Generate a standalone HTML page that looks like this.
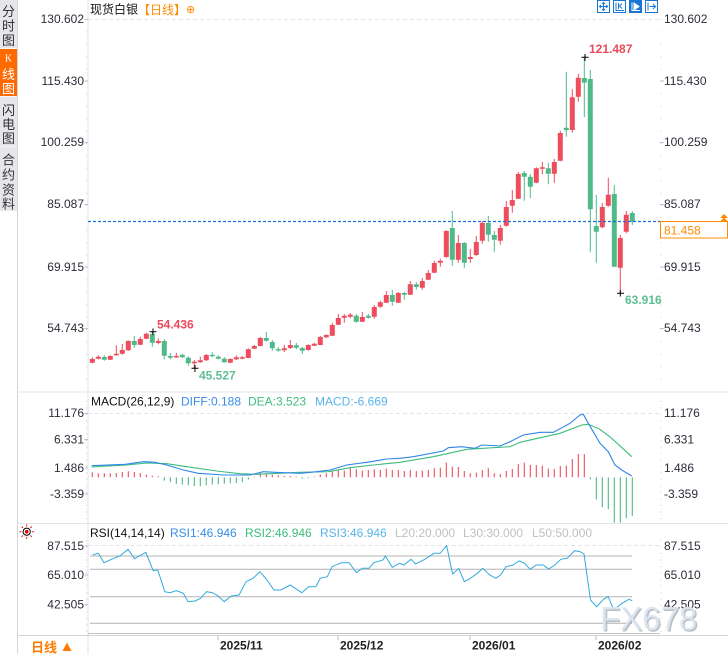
<!DOCTYPE html>
<html><head><meta charset="utf-8"><style>
html,body{margin:0;padding:0;background:#fff;}
svg{display:block;font-family:"Liberation Sans","Noto Sans CJK SC",sans-serif;}
</style></head><body>
<svg width="728" height="654" viewBox="0 0 728 654" xmlns="http://www.w3.org/2000/svg">
<rect width="728" height="654" fill="#fff"/>
<!-- sidebar -->
<rect x="0" y="0" width="17" height="211" fill="#e6e6ea"/>
<rect x="0" y="49" width="17" height="47" fill="#ff6a00"/>
<path d="M0 48.5H17M0 96.5H17M0 146.8H17" stroke="#f6f6f8" stroke-width="1"/>
<path d="M17.5 0V654" stroke="#d4d6da" stroke-width="1"/>
<g font-size="13" fill="#333" text-anchor="middle" dominant-baseline="central" font-family="'Noto Sans CJK SC',sans-serif">
<text x="8.5" y="10.5">分</text><text x="8.5" y="25">时</text><text x="8.5" y="39.5">图</text>
<text x="8.5" y="59" fill="#fff" font-size="10" font-family="'Liberation Serif',serif">K</text><text x="8.5" y="73.5" fill="#fff">线</text><text x="8.5" y="88" fill="#fff">图</text>
<text x="8.5" y="109.5">闪</text><text x="8.5" y="123.5">电</text><text x="8.5" y="137.5">图</text>
<text x="8.5" y="159">合</text><text x="8.5" y="174">约</text><text x="8.5" y="189">资</text><text x="8.5" y="203">料</text>
</g>
<!-- frames -->
<path d="M88 0V654" stroke="#dbe3ea" stroke-width="1"/>
<path d="M17 392H728M17 523.5H728" stroke="#e2e6ea" stroke-width="1"/>
<path d="M17 635.5H728" stroke="#d2d4d8" stroke-width="1"/>
<path d="M88 633.5H660" stroke="#c4c4c4" stroke-width="1"/>
<!-- title -->
<text x="90" y="9" font-size="12" fill="#111" dominant-baseline="central" font-family="'Noto Sans CJK SC',sans-serif">现货白银<tspan fill="#ff8a00">【日线】</tspan><tspan fill="#ff8a00" font-family="'DejaVu Sans',sans-serif" font-size="11">⊕</tspan></text>
<!-- top right icons -->
<g stroke="#1a76d2" stroke-width="1" fill="none">
<rect x="597.5" y="0.5" width="12" height="12"/>
<path d="M603.5 2.5V10.5M599.5 6.5H607.5M602 4L603.5 2.5L605 4M602 9L603.5 10.5L605 9M601 5L599.5 6.5L601 8M606 5L607.5 6.5L606 8"/>
<rect x="613.5" y="0.5" width="12" height="12"/>
<path d="M616 2.5V10.5H624M618.5 3V9M622 3.5L619.5 6L622 8.5"/>
<rect x="629.5" y="0.5" width="12" height="12" fill="#1a76d2"/>
<path d="M632 2.5V10.5H640" stroke="#fff"/>
<path d="M634 3L639 6.5L634 10Z" fill="#fff" stroke="#fff"/>
<rect x="645.5" y="0.5" width="12" height="12"/>
<path d="M648 2.5V10.5M649.5 6.5H655.5M653 4L655.5 6.5L653 9"/>
</g>
<!-- price grid -->
<path d="M88 19.5H660" stroke="#e4e4e4" stroke-dasharray="4 3"/>
<path d="M86.5 19V390" stroke="#c9d0d8" stroke-dasharray="1 11.4"/>
<path d="M661 19V390" stroke="#c9d0d8" stroke-dasharray="1 11.4"/>
<g stroke="#b8c4d0" stroke-width="1">
<path d="M84.5 19.5H88M84.5 81H88M84.5 142.5H88M84.5 204.5H88M84.5 267H88M84.5 328.5H88"/>
<path d="M660 81H664M660 142.5H664M660 204.5H664M660 267H664M660 328.5H664"/>
</g>
<g font-size="12" fill="#2d2d3a" dominant-baseline="central">
<g text-anchor="end">
<text x="84" y="19">130.602</text><text x="84" y="81">115.430</text><text x="84" y="142">100.259</text>
<text x="84" y="204">85.087</text><text x="84" y="267">69.915</text><text x="84" y="328">54.743</text>
</g>
<text x="664" y="19">130.602</text><text x="664" y="81">115.430</text><text x="664" y="142">100.259</text>
<text x="664" y="204">85.087</text><text x="664" y="267">69.915</text><text x="664" y="328">54.743</text>
</g>
<!-- candles -->
<path stroke="#ee4d5d" stroke-width="1" fill="none" d="M92.3 357.3V363.3M98.3 355.3V359.3M110.3 355.3V360M116.3 345.3V355.7M122.3 344V354.7M128.3 340.3V351M140.3 336.7V345M146.3 332.7V339.3M158.3 338.3V344.3M176.3 352.7V357.7M194.3 360V368M200.3 356.7V362.7M206.3 354V361M230.3 358.3V363M236.3 355.3V360M242.3 356V359.3M248.3 348.3V358.3M254.3 345V349M260.3 336.7V346.3M284.3 345V352M290.3 340V349M308.3 344.3V350.7M314.3 342.7V346M320.3 336V345.3M326.3 334.3V338M332.3 322.7V336M338.3 314V325M344.3 314V322.7M350.3 313V318.3M362.3 312V322M374.3 305V318.7M380.3 300.7V307.7M386.3 291V303M398.3 292V303M410.3 281V295M422.3 278V289.7M428.3 270V280M434.3 260.7V273M440.3 258.7V266.7M446.3 230V257.7M458.3 235V262.7M470.3 249V262.7M476.3 236V255.7M482.3 221V243.7M500.3 225V244.7M506.3 201V226.7M512.3 190V212.7M518.3 172V199M536.3 167.3V183.3M542.3 162V174.3M554.3 159V182.7M560.3 130.7V161.3M572.3 89.3V132.7M578.3 73.7V101.7M602.3 203.3V228.3M608.3 177.7V206.7M620.3 235V293.3M626.3 211V233.3"/>
<path fill="#ee4d5d" d="M89.8 359h5V362.7h-5zM95.8 356.7h5V358.7h-5zM107.8 356h5V359.7h-5zM113.8 353.7h5V355.2h-5zM119.8 350h5V353.7h-5zM125.8 341h5V350.3h-5zM137.8 339h5V344.7h-5zM143.8 333.7h5V338.7h-5zM155.8 341h5V343h-5zM173.8 356h5V357.5h-5zM191.8 361.7h5V363.3h-5zM197.8 360.3h5V362.3h-5zM203.8 355h5V360.3h-5zM227.8 359h5V362.7h-5zM233.8 357.3h5V359.3h-5zM239.8 357.3h5V358.8h-5zM245.8 349.3h5V358h-5zM251.8 346h5V348.7h-5zM257.8 338h5V346h-5zM281.8 348.3h5V350.3h-5zM287.8 345h5V348h-5zM305.8 345h5V350h-5zM311.8 343.7h5V345.7h-5zM317.8 337h5V345h-5zM323.8 335h5V337.3h-5zM329.8 325h5V335.7h-5zM335.8 318h5V324.7h-5zM341.8 315.7h5V317.7h-5zM347.8 314.7h5V316.7h-5zM359.8 317h5V321.7h-5zM371.8 307h5V316.7h-5zM377.8 302.3h5V306.7h-5zM383.8 295h5V302.7h-5zM395.8 293h5V302.7h-5zM407.8 284.3h5V294.7h-5zM419.8 281h5V287.7h-5zM425.8 273h5V279.7h-5zM431.8 263h5V272.7h-5zM437.8 260.7h5V262.7h-5zM443.8 231h5V257h-5zM455.8 243h5V259.7h-5zM467.8 257h5V259h-5zM473.8 242h5V255h-5zM479.8 223h5V240.7h-5zM497.8 228h5V240.7h-5zM503.8 207h5V225.7h-5zM509.8 200h5V205.7h-5zM515.8 174h5V198.7h-5zM533.8 168.3h5V182.7h-5zM539.8 167.3h5V168.8h-5zM551.8 162h5V173.7h-5zM557.8 133h5V160.7h-5zM569.8 97.3h5V130h-5zM575.8 77.7h5V96.7h-5zM599.8 207h5V227.3h-5zM605.8 194.7h5V205.7h-5zM617.8 238h5V267.7h-5zM623.8 214.7h5V231.7h-5z"/>
<path stroke="#4fba88" stroke-width="1" fill="none" d="M104.3 355.3V360.7M134.3 336V347.7M152.3 331.7V346.7M164.3 339.3V359.3M170.3 353V359.3M182.3 354V358M188.3 356.3V365.7M212.3 352.3V357.3M218.3 355.3V359.3M224.3 357.3V362.7M266.3 332V341.7M272.3 340V350.7M278.3 346.7V351.7M296.3 342.7V349.3M302.3 346.7V354M356.3 314V322.7M368.3 314V318.7M392.3 290V305.7M404.3 292V299.7M416.3 282V289.7M452.3 211V265.7M464.3 242V267.7M488.3 216V241.7M494.3 231V251.7M524.3 171V200.7M530.3 174.3V198.3M548.3 162.7V184.3M566.3 71.7V136.7M584.3 57.3V117.3M590.3 70V252.3M596.3 195V262.7M614.3 185V266.7M632.3 211V225"/>
<path fill="#4fba88" d="M101.8 357h5V359.7h-5zM131.8 341h5V345h-5zM149.8 334h5V342.7h-5zM161.8 341h5V355.7h-5zM167.8 356h5V357.7h-5zM179.8 354.7h5V357.3h-5zM185.8 357.7h5V363.3h-5zM209.8 354.7h5V356.2h-5zM215.8 356.7h5V358.7h-5zM221.8 358.7h5V362.3h-5zM263.8 338h5V340.7h-5zM269.8 342h5V348.3h-5zM275.8 349h5V350.5h-5zM293.8 345.3h5V347.7h-5zM299.8 348h5V350.7h-5zM353.8 315.7h5V321.7h-5zM365.8 315.7h5V317.7h-5zM389.8 295h5V301.7h-5zM401.8 293h5V294.7h-5zM413.8 284.3h5V287h-5zM449.8 228h5V259.7h-5zM461.8 243h5V262.7h-5zM485.8 223h5V234.7h-5zM491.8 235h5V239.7h-5zM521.8 173h5V176.7h-5zM527.8 176.7h5V186.7h-5zM545.8 168.3h5V173.7h-5zM563.8 127.7h5V130.3h-5zM581.8 78h5V82.7h-5zM587.8 79h5V209.3h-5zM593.8 226h5V231.7h-5zM611.8 194h5V266.7h-5zM629.8 213h5V221.7h-5z"/>
<!-- current price line -->
<path d="M88 221.5H660" stroke="#1a6fd6" stroke-width="1.2" stroke-dasharray="3 2"/>
<rect x="660.5" y="221.5" width="67" height="16.5" fill="#fff" stroke="#ff8c00" stroke-width="1"/>
<text x="664" y="230.5" font-size="12" fill="#ff8c00" dominant-baseline="central">81.458</text>
<path d="M720 218L724 214L728 218ZM720 221.5L724 217.5L728 221.5Z" fill="#ff8c00"/>
<!-- markers -->
<path d="M581.5 57.3H588.5M585 54V61M149.5 331.7H156.5M153 328.5V335M191.5 368.3H198.5M195 365V372M617 293.3H624M620.3 290V296.5" stroke="#000" stroke-width="1"/>
<g font-size="12" font-weight="bold" dominant-baseline="central">
<text x="589" y="49" fill="#e9495c">121.487</text>
<text x="157" y="324.5" fill="#e9495c">54.436</text>
<text x="199" y="375.7" fill="#5cbf94">45.527</text>
<text x="625" y="300" fill="#5cbf94">63.916</text>
</g>
<!-- MACD panel -->
<g font-size="12" dominant-baseline="central">
<text x="91" y="401.5" fill="#111">MACD(26,12,9)</text>
<text x="181" y="401.5" fill="#3a8ee8">DIFF:0.188</text>
<text x="248" y="401.5" fill="#3cbc7c">DEA:3.523</text>
<text x="315" y="401.5" fill="#5ab4e8">MACD:-6.669</text>
</g>
<path d="M88 413.5H660" stroke="#e4e4e4" stroke-dasharray="4 3"/>
<path d="M86.5 401V522M661 401V522" stroke="#c9d0d8" stroke-dasharray="1 5.5"/>
<g font-size="12" fill="#2d2d3a" dominant-baseline="central">
<g text-anchor="end"><text x="84" y="413">11.176</text><text x="84" y="439.5">6.331</text><text x="84" y="468">1.486</text><text x="84" y="494">-3.359</text></g>
<text x="664" y="413">11.176</text><text x="664" y="439.5">6.331</text><text x="664" y="468">1.486</text><text x="664" y="494">-3.359</text>
</g>
<path d="M84.5 413.5H88M84.5 439.5H88M84.5 468H88M84.5 494H88" stroke="#b8c4d0"/>
<path stroke="#ee4d5d" stroke-width="1.1" d="M92.3 477.3V472.3M98.3 477.3V473.3M104.3 477.3V473.3M110.3 477.3V473.3M116.3 477.3V473M122.3 477.3V472M128.3 477.3V471.3M134.3 477.3V472M140.3 477.3V473M146.3 477.3V474.6M152.3 477.3V475.8M158.3 477.3V476.3M254.3 477.3V476.6M260.3 477.3V473.3M266.3 477.3V473.3M272.3 477.3V474.6M278.3 477.3V475.3M284.3 477.3V476M290.3 477.3V476M296.3 477.3V476.6M314.3 477.3V476.6M320.3 477.3V474.6M326.3 477.3V473.3M332.3 477.3V470.6M338.3 477.3V470M344.3 477.3V470.6M350.3 477.3V468M356.3 477.3V469.3M362.3 477.3V470.6M368.3 477.3V470M374.3 477.3V469.3M380.3 477.3V470M386.3 477.3V468.6M392.3 477.3V470M398.3 477.3V470M404.3 477.3V471M410.3 477.3V470M416.3 477.3V471M422.3 477.3V470.6M428.3 477.3V470M434.3 477.3V468.3M440.3 477.3V467.6M446.3 477.3V462.6M452.3 477.3V466.6M458.3 477.3V467M464.3 477.3V471M470.3 477.3V473.3M476.3 477.3V472.6M482.3 477.3V470M488.3 477.3V468.3M494.3 477.3V473.3M500.3 477.3V474M506.3 477.3V471M512.3 477.3V469M518.3 477.3V464M524.3 477.3V462.6M530.3 477.3V465M536.3 477.3V465M542.3 477.3V465.6M548.3 477.3V468.6M554.3 477.3V469M560.3 477.3V466M566.3 477.3V465.6M572.3 477.3V459M578.3 477.3V454M584.3 477.3V454"/>
<path stroke="#4fba88" stroke-width="1.1" d="M164.3 477.3V480.6M170.3 477.3V482M176.3 477.3V484M182.3 477.3V484.6M188.3 477.3V485.3M194.3 477.3V486M200.3 477.3V486.3M206.3 477.3V485.3M212.3 477.3V484.6M218.3 477.3V484.3M224.3 477.3V483.6M230.3 477.3V483.3M236.3 477.3V483M242.3 477.3V482.3M248.3 477.3V479.6M302.3 477.3V478.6M308.3 477.3V478.3M590.3 477.3V479.3M596.3 477.3V499.3M602.3 477.3V507.3M608.3 477.3V509.3M614.3 477.3V522.6M620.3 477.3V522.6M626.3 477.3V518.3M632.3 477.3V516"/>
<polyline fill="none" stroke="#3cbc7c" stroke-width="1.1" points="91.7,467 126.7,465 146.7,463 166.7,463.7 186.7,466.7 216.7,471 240,473.7 256.7,474.3 300,472.3 328.3,471.7 350,467.7 373.3,465 400,462.3 433.3,456.7 466.7,449.3 510,446.7 520,442.3 560,433.3 581.7,425 588.3,424.3 600,429.3 611.7,438.3 631.7,456.7"/>
<polyline fill="none" stroke="#2e86e8" stroke-width="1.1" points="91.7,465.7 125,464.3 143.3,461.7 155,462.3 166.7,465 183.3,470 198.3,473.3 223.3,475 250,475 263.3,471.7 275,472.3 300,473.3 316.7,471.7 330,470 346.7,465 366.7,462.3 386.7,459 400,458.3 413.3,456.7 443.3,451 448.3,447.7 461.7,446.7 475,448.3 481.7,445 500,446 510,441.7 523.3,435 540,432.3 553.3,432.3 570,423.3 580,415 583.3,414.3 588.3,423.3 600,443.3 608.3,451.7 615,465 621.7,470 631.7,476"/>
<!-- RSI panel -->
<g>
<circle cx="26.7" cy="531.7" r="3.6" fill="none" stroke="#000" stroke-width="1"/>
<circle cx="26.7" cy="531.7" r="1.8" fill="#e00"/>
<path d="M26.7 524.5V526.3M26.7 537.1V538.9M19.5 531.7H21.3M32.1 531.7H33.9M21.6 526.6L22.9 527.9M30.5 535.5L31.8 536.8M31.8 526.6L30.5 527.9M22.9 535.5L21.6 536.8" stroke="#e00" stroke-width="1"/>
</g>
<g font-size="12" dominant-baseline="central">
<text x="90" y="533" fill="#111">RSI(14,14,14)</text>
<text x="170" y="533" fill="#3a8ee8">RSI1:46.946</text>
<text x="245" y="533" fill="#3cbc7c">RSI2:46.946</text>
<text x="320" y="533" fill="#5ab4e8">RSI3:46.946</text>
<text x="395" y="533" fill="#c0c0c0">L20:20.000</text>
<text x="463" y="533" fill="#c0c0c0">L30:30.000</text>
<text x="532" y="533" fill="#c0c0c0">L50:50.000</text>
</g>
<path d="M88 545.5H660" stroke="#e4e4e4" stroke-dasharray="4 3"/>
<path d="M90 556H632M90 569.3H632M90 596.7H632M90 623.3H632" stroke="#b4b4b4" stroke-width="1"/>
<path d="M86.5 540V632M661 540V632" stroke="#c9d0d8" stroke-dasharray="1 5.5"/>
<path d="M84.5 546H88M84.5 575H88M84.5 604.5H88" stroke="#b8c4d0"/>
<polyline fill="none" stroke="#33aadd" stroke-width="1" points="92.8,555 98.4,553.3 104,562.7 111.4,559.3 119.8,556 128,549.3 134.6,558.7 145.8,552.3 153.2,570.7 157.8,570 164.8,591.7 169.9,592.7 176.4,590.7 183.4,593.3 188,601.7 195,601 200.6,598.3 206.6,591.7 212.6,592.7 218.2,596 224.2,601.7 231.2,596 239.1,595 246,581.7 253,578.3 260,571.7 267,580 273.9,590 280.9,590 290.2,585 301.8,592.7 308.7,586.7 315.7,586.7 320.3,578.3 327.3,576.7 332,566.7 341.2,562.7 349.1,562.7 356.5,572.7 362.1,568.3 369.1,568.3 373.7,562.7 383,560 385.3,556 392.3,567.3 399.3,563.3 403.9,565 410.9,559.3 415.5,564 424.8,559.3 434.1,553.3 440.1,553.3 446.6,545.7 452.6,574 458.7,568.3 464.3,581.7 468.9,579.3 477.3,573.3 482.8,568.3 489.8,575 495.8,578.3 500.5,575 506,566.7 513,565 519,561 524.6,563.3 530.2,569.3 536.2,565 543.2,565 548.7,569 554.8,565 560.8,559.3 567.3,558.3 574.7,550.7 580.3,551.7 584,554 590.5,600 596.6,606.7 603.5,599.3 608.2,596.7 613.7,610 622,603.3 629,599.3 632.3,600.7"/>
<g font-size="12" fill="#2d2d3a" dominant-baseline="central">
<g text-anchor="end"><text x="84" y="546">87.515</text><text x="84" y="575">65.010</text><text x="84" y="604.5">42.505</text></g>
<text x="664" y="546">87.515</text><text x="664" y="575">65.010</text><text x="664" y="604.5">42.505</text>
</g>
<!-- watermark -->
<text x="601.5" y="631.5" font-size="33" fill="#a9b1ba" opacity="0.8">FX678</text>
<text x="600" y="630" font-size="33" fill="#dde5f0" opacity="0.92">FX678</text>
<!-- date axis -->
<path d="M218 635.5V640M338 635.5V640M470 635.5V640M596 635.5V640" stroke="#bbb"/>
<g font-size="12" font-weight="bold" fill="#222" dominant-baseline="central">
<text x="220" y="645.5">2025/11</text><text x="340" y="645.5">2025/12</text><text x="472" y="645.5">2026/01</text><text x="598" y="645.5">2026/02</text>
</g>
<text x="31" y="646.5" font-size="13" font-weight="bold" fill="#ff7a00" dominant-baseline="central" font-family="'Noto Sans CJK SC',sans-serif">日线</text>
<path d="M62.5 651L67 642.5L71.5 651Z" fill="#ff7a00"/>
</svg>
</body></html>
